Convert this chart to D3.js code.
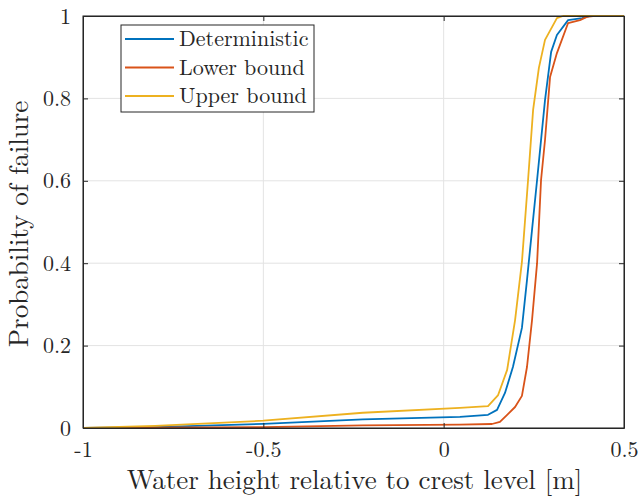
<!DOCTYPE html>
<html>
<head>
<meta charset="utf-8">
<script src="https://cdn.jsdelivr.net/npm/d3@7"></script>
<style>
  body { margin: 0; background: #fff; }
</style>
</head>
<body>
<div id="chart"></div>
<script>
// data
var detX = [-1, -0.8, -0.5, -0.224, 0.045, 0.123, 0.148, 0.170, 0.192, 0.217, 0.231, 0.245, 0.259, 0.281, 0.298, 0.314, 0.345, 0.384, 0.406, 0.5];
var detY = [0, 0.002, 0.010, 0.021, 0.027, 0.032, 0.044, 0.085, 0.148, 0.243, 0.359, 0.481, 0.602, 0.796, 0.913, 0.954, 0.990, 0.995, 1, 1];

var lowX = [-1, -0.5, -0.224, 0.045, 0.134, 0.156, 0.176, 0.198, 0.217, 0.231, 0.245, 0.259, 0.270, 0.281, 0.295, 0.314, 0.345, 0.378, 0.397, 0.414, 0.5];
var lowY = [0, 0.002, 0.0065, 0.008, 0.0097, 0.015, 0.032, 0.051, 0.078, 0.148, 0.262, 0.400, 0.602, 0.699, 0.852, 0.910, 0.983, 0.990, 0.998, 1, 1];

var upX = [-1, -0.8, -0.5, -0.224, 0.045, 0.123, 0.151, 0.176, 0.198, 0.217, 0.234, 0.248, 0.264, 0.281, 0.314, 0.331, 0.5];
var upY = [0, 0.005, 0.0177, 0.037, 0.049, 0.053, 0.080, 0.141, 0.262, 0.403, 0.602, 0.772, 0.874, 0.942, 0.995, 1, 1];

var seriesNames = ["Deterministic", "Lower bound", "Upper bound"];
var xTicks = [-1, -0.5, 0, 0.5];
var yTicks = [0, 0.2, 0.4, 0.6, 0.8, 1];

var font = "'Latin Modern Roman', 'Liberation Serif', serif";
var ink = "#262626";

var width = 640, height = 499;
var margin = { top: 16, right: 16, bottom: 71, left: 83 };
var w = width - margin.left - margin.right,
    h = height - margin.top - margin.bottom;

var color = d3.scaleOrdinal()
  .domain(seriesNames)
  .range(["#0072BD", "#D95319", "#EDB120"]);

var svg = d3.select("#chart")
  .append("svg")
  .attr("width", width)
  .attr("height", height)
  .append("g")
  .attr("transform", "translate(" + margin.left + "," + margin.top + ")");

var x = d3.scaleLinear().domain([-1, 0.5]).range([0, w]);
var y = d3.scaleLinear().domain([0, 1]).range([h, 0]);

// plain hyphen for negatives, like MATLAB
var fmt = function (d) { return String(d); };

// grid
svg.selectAll(".gx").data(xTicks).enter().append("line")
  .attr("x1", d => x(d)).attr("x2", d => x(d))
  .attr("y1", 0).attr("y2", h)
  .style("stroke", "#e3e3e3").style("stroke-width", 1);
svg.selectAll(".gy").data(yTicks).enter().append("line")
  .attr("y1", d => y(d)).attr("y2", d => y(d))
  .attr("x1", 0).attr("x2", w)
  .style("stroke", "#e3e3e3").style("stroke-width", 1);

// curves
var series = [
  { name: "Deterministic", xs: detX, ys: detY },
  { name: "Lower bound", xs: lowX, ys: lowY },
  { name: "Upper bound", xs: upX, ys: upY }
];
var line = d3.line().x(d => x(d[0])).y(d => y(d[1]));
svg.selectAll(".curve").data(series).enter().append("path")
  .attr("d", d => line(d.xs.map((v, i) => [v, d.ys[i]])))
  .style("fill", "none")
  .style("stroke", d => color(d.name))
  .style("stroke-width", 1.8)
  .style("stroke-linejoin", "round");

// axes (MATLAB style: inward ticks, box)
var tickLen = 5;
svg.append("g").attr("transform", "translate(0," + h + ")")
  .call(d3.axisBottom(x).tickValues(xTicks).tickSizeInner(-tickLen).tickSizeOuter(0).tickPadding(13).tickFormat(fmt))
  .call(g => g.selectAll("text").style("font-size", "22px").style("font-family", font).style("fill", ink));
svg.append("g")
  .call(d3.axisTop(x).tickValues(xTicks).tickSizeInner(-tickLen).tickSizeOuter(0).tickFormat(""));
svg.append("g")
  .call(d3.axisLeft(y).tickValues(yTicks).tickSizeInner(-tickLen).tickSizeOuter(0).tickPadding(12).tickFormat(fmt))
  .call(g => g.selectAll("text").style("font-size", "22px").style("font-family", font).style("fill", ink));
svg.append("g").attr("transform", "translate(" + w + ",0)")
  .call(d3.axisRight(y).tickValues(yTicks).tickSizeInner(-tickLen).tickSizeOuter(0).tickFormat(""));
svg.selectAll(".domain, .tick line").style("stroke", ink);
svg.append("rect").attr("width", w).attr("height", h)
  .style("fill", "none").style("stroke", ink).style("stroke-width", 1);

// axis titles
svg.append("text")
  .attr("x", w / 2 + 1).attr("y", h + 61)
  .attr("text-anchor", "middle")
  .style("font-family", font).style("fill", ink)
  .style("font-size", "27px")
  .text("Water height relative to crest level [m]");
svg.append("text")
  .attr("transform", "translate(" + (-55) + "," + (h / 2 + 2) + ") rotate(-90)")
  .attr("text-anchor", "middle")
  .style("font-family", font).style("fill", ink)
  .style("font-size", "27px")
  .text("Probability of failure");

// legend
var lg = svg.append("g").attr("transform", "translate(" + (121 - margin.left) + "," + (25 - margin.top) + ")");
lg.append("rect").attr("width", 193).attr("height", 87)
  .style("fill", "#fff").style("stroke", ink).style("stroke-width", 1);
var items = lg.selectAll(".item").data(seriesNames).enter().append("g")
  .attr("transform", (d, i) => "translate(0," + (14 + i * 28.5) + ")");
items.append("line").attr("x1", 4).attr("x2", 53)
  .style("stroke", d => color(d)).style("stroke-width", 1.8);
items.append("text").attr("x", 58).attr("dy", "0.33em")
  .style("font-family", font).style("fill", ink)
  .style("font-size", "22px")
  .text(d => d);
</script>
</body>
</html>
